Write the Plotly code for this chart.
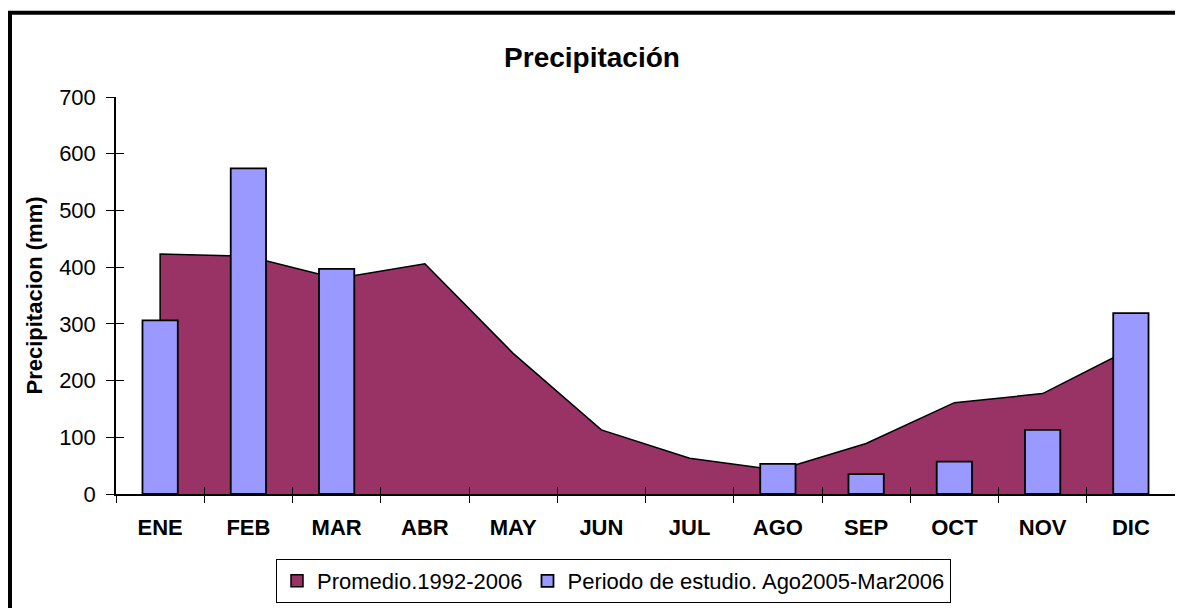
import plotly.graph_objects as go

months = ['ENE', 'FEB', 'MAR', 'ABR', 'MAY', 'JUN', 'JUL', 'AGO', 'SEP', 'OCT', 'NOV', 'DIC']
promedio = [423, 419, 380, 406, 248, 113, 63, 42, 89, 161, 177, 256]
periodo = [306, 574, 397, None, None, None, None, 53, 35, 57, 113, 319]
y_ticks = [0, 100, 200, 300, 400, 500, 600, 700]

name_prom = 'Promedio.1992-2006'
name_per = 'Periodo de estudio. Ago2005-Mar2006'
c_prom = '#993366'
c_per = '#9999FF'
FONT = 'Liberation Sans, Arial, sans-serif'

# page body has an 8px margin: figure origin sits at window (8, 8)
OFF = 8
W, H = 1183 - OFF, 608 - OFF
# plot area in window pixels: x 116..1175, y 97..494
ML = 116 - OFF
MR = 1183 - 1175
MT = 97 - OFF
MB = 608 - 494
PW, PH = W - ML - MR, H - MT - MB

def px(xw):
    return (xw - OFF - ML) / PW

def py(yw):
    return (H - MB - (yw - OFF)) / PH

fig = go.Figure()

# closed polygon for the area (vertical edges at the first/last category)
poly_x = [months[0]] + months + [months[-1]]
poly_y = [0] + promedio + [0]
fig.add_trace(go.Scatter(
    x=poly_x, y=poly_y, mode='lines', fill='toself', fillcolor=c_prom,
    line=dict(color='black', width=1.5), showlegend=False, hoverinfo='skip',
    xaxis='x', yaxis='y'))

# legend entry for the area + the study-period bars
fig.add_trace(go.Bar(
    x=[None], y=[None], name=name_prom,
    marker=dict(color=c_prom, line=dict(color='black', width=1.5)),
    xaxis='x2', yaxis='y2', showlegend=True))
fig.add_trace(go.Bar(
    x=months, y=periodo, name=name_per, width=0.4,
    marker=dict(color=c_per, line=dict(color='black', width=1.8)),
    xaxis='x2', yaxis='y2'))

xcommon = dict(type='category', categoryorder='array', categoryarray=months,
               range=[-0.5, 11.5], tickson='boundaries', ticklen=7, tickwidth=1,
               tickcolor='black', showgrid=False, zeroline=False, fixedrange=True)
ycommon = dict(range=[0, 700], tickvals=y_ticks, ticklen=8, tickwidth=1,
               tickcolor='black', showgrid=False, zeroline=False, fixedrange=True)

fig.update_layout(
    width=W, height=H,
    margin=dict(l=ML, r=MR, t=MT, b=MB, autoexpand=False),
    paper_bgcolor='white', plot_bgcolor='white',
    font=dict(family=FONT, color='black', size=22),
    title=dict(text='Precipitación', x=(592 - OFF) / W, xanchor='center', xref='container',
               y=1 - (57 - OFF) / H, yanchor='middle', yref='container',
               font=dict(family=FONT, size=28, weight='bold', color='black')),
    barmode='overlay',
    xaxis=dict(**xcommon, ticks='outside', showline=True, linecolor='black', linewidth=1.5,
               tickfont=dict(family=FONT, size=22, weight='bold'), ticklabelstandoff=13),
    xaxis2=dict(**xcommon, ticks='inside', overlaying='x', anchor='y2', showline=False,
                showticklabels=False),
    yaxis=dict(**ycommon, ticks='outside', showline=True, linecolor='black', linewidth=1.5,
               tickfont=dict(family=FONT, size=22), ticklabelstandoff=6,
               title=dict(text='Precipitacion (mm)', standoff=10,
                          font=dict(family=FONT, size=22, weight='bold'))),
    yaxis2=dict(**ycommon, ticks='inside', overlaying='y', side='left', anchor='x2',
                showline=False, showticklabels=False),
    legend=dict(orientation='h', x=px(613.5), xanchor='center', y=py(581), yanchor='middle',
                bordercolor='black', borderwidth=1, bgcolor='white',
                font=dict(family=FONT, size=22), traceorder='normal'),
    shapes=[dict(type='rect', xref='paper', yref='paper',
                 x0=px(10), x1=px(1200), y0=py(630), y1=py(12.8),
                 line=dict(color='black', width=4), fillcolor='rgba(0,0,0,0)', layer='above')],
)

fig.write_html('out.html')
